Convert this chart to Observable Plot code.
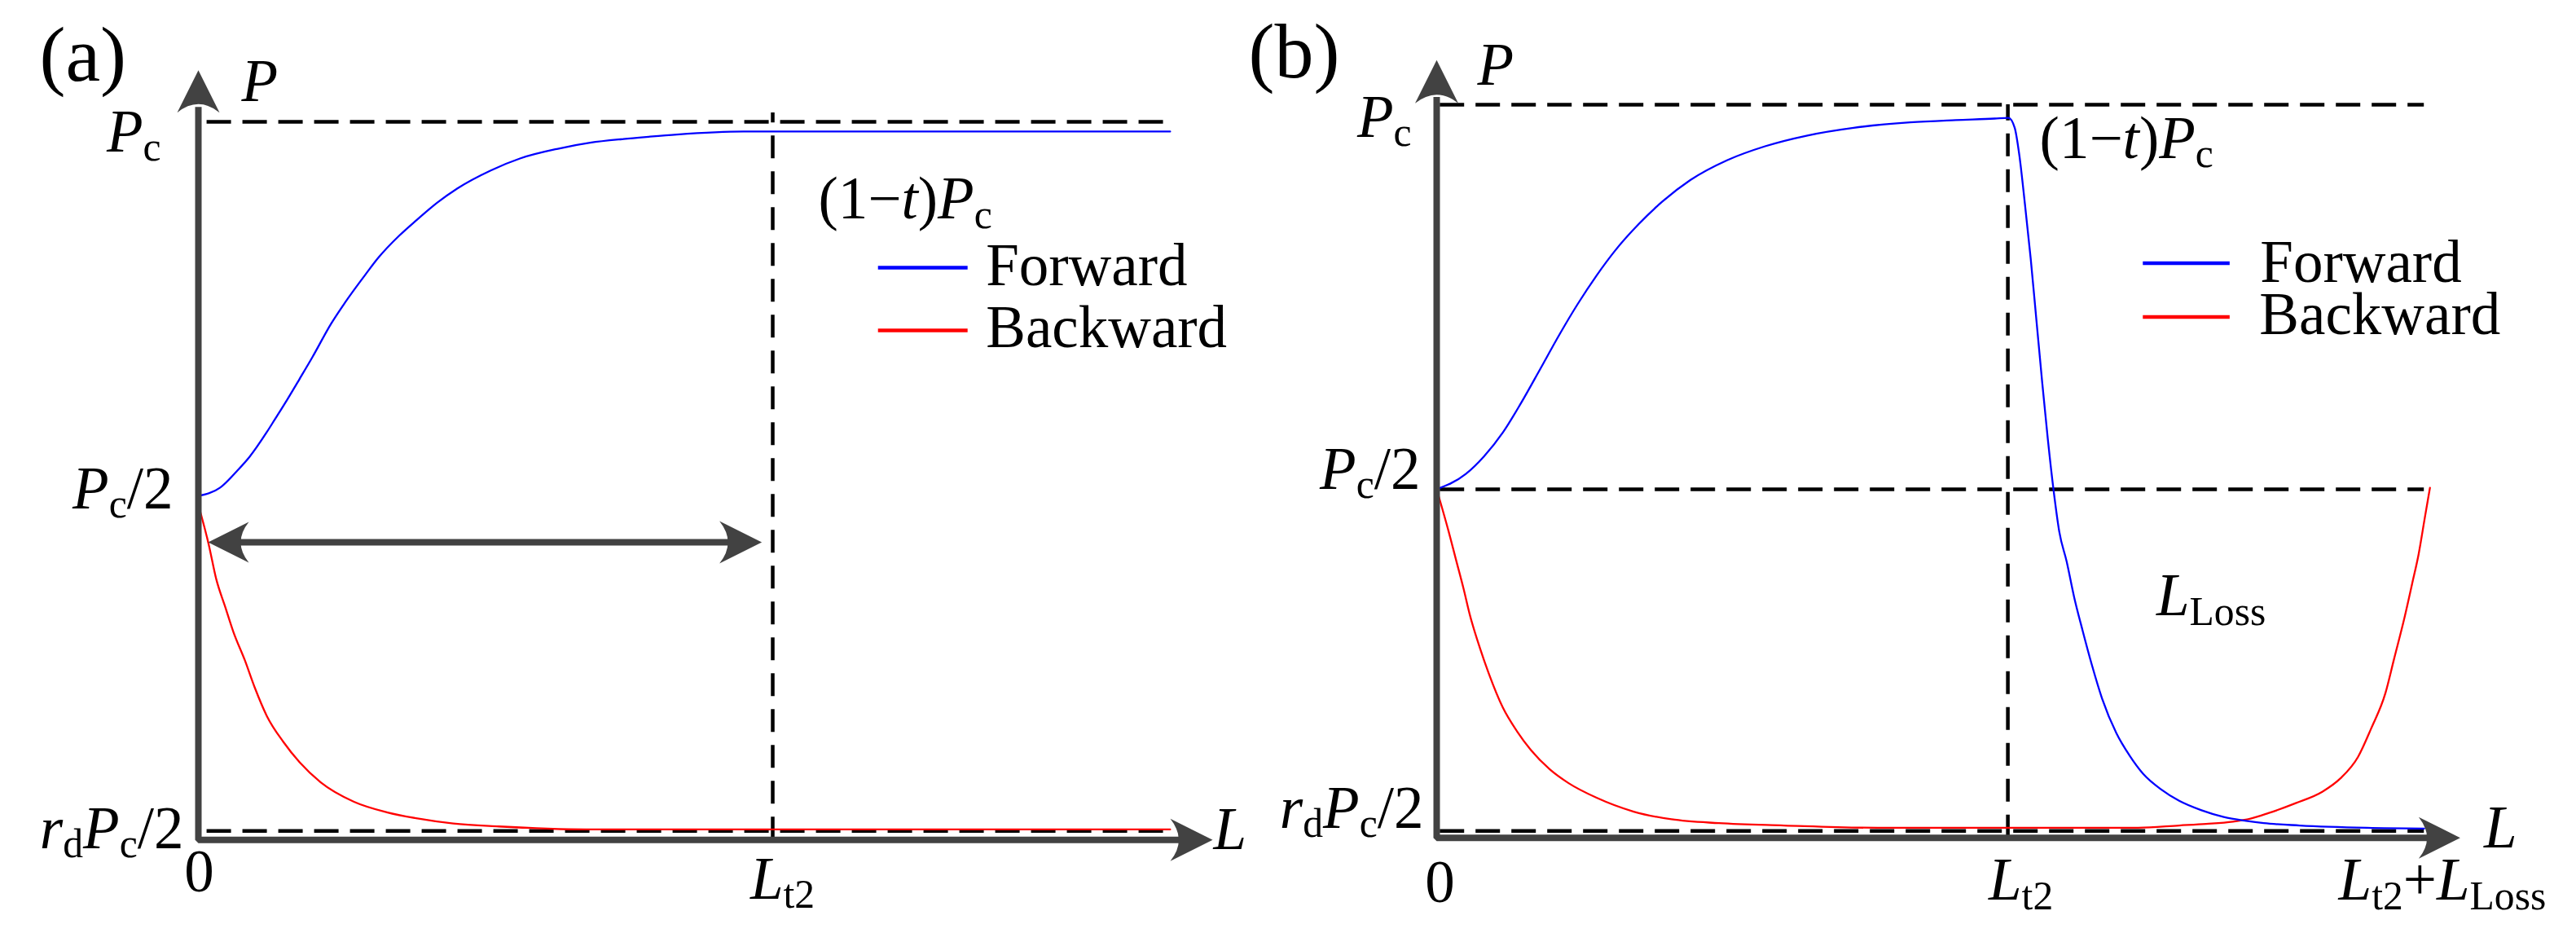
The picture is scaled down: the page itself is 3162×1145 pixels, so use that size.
<!DOCTYPE html>
<html>
<head>
<meta charset="utf-8">
<script src="https://cdn.jsdelivr.net/npm/d3@7"></script>
<script src="https://cdn.jsdelivr.net/npm/@observablehq/plot@0.6"></script>
<style>
  html, body { margin: 0; padding: 0; background: #ffffff; overflow: hidden; }
  #wrap { position: relative; width: 3162px; height: 1145px; background: #ffffff; }
  #wrap svg { position: absolute; left: 0; top: 0; }
</style>
</head>
<body>
<div id="wrap"></div>
<script>
// ---------------- DATA (values in units: L / L_t2, P / P_c) ----------------
const Lt2 = 1;
const LLoss = 0.735;

// Panel (a)
const aForwardL = [0, 0.038, 0.067, 0.089, 0.119, 0.133, 0.155, 0.176, 0.199, 0.231, 0.255, 0.292, 0.313, 0.350, 0.379, 0.416, 0.451, 0.509, 0.560, 0.626, 0.682, 0.740, 0.784, 0.833, 0.949, 1.692];
const aForwardP = [0.500, 0.511, 0.533, 0.552, 0.585, 0.602, 0.629, 0.656, 0.686, 0.730, 0.758, 0.797, 0.818, 0.848, 0.868, 0.892, 0.911, 0.935, 0.951, 0.964, 0.972, 0.977, 0.980, 0.983, 0.987, 0.987];
const aBackwardL = [0, 0.018, 0.031, 0.047, 0.061, 0.081, 0.098, 0.119, 0.148, 0.176, 0.213, 0.271, 0.328, 0.379, 0.444, 0.523, 0.675, 1.692];
const aBackwardP = [0.488, 0.435, 0.389, 0.351, 0.318, 0.280, 0.244, 0.206, 0.171, 0.144, 0.117, 0.091, 0.077, 0.069, 0.062, 0.058, 0.054, 0.054];

// Panel (b)
const bForwardL = [0, 0.051, 0.083, 0.116, 0.146, 0.181, 0.214, 0.247, 0.280, 0.312, 0.354, 0.395, 0.444, 0.509, 0.575, 0.649, 0.730, 0.829, 0.909, 0.977, 1.001, 1.012, 1.020, 1.030, 1.040, 1.050, 1.060, 1.070, 1.080, 1.090, 1.103, 1.116, 1.131, 1.147, 1.165, 1.190, 1.213, 1.237, 1.268, 1.300, 1.338, 1.378, 1.417, 1.448, 1.511, 1.629, 1.729];
const bForwardP = [0.500, 0.520, 0.543, 0.574, 0.610, 0.656, 0.700, 0.741, 0.778, 0.810, 0.845, 0.874, 0.902, 0.928, 0.946, 0.960, 0.970, 0.977, 0.980, 0.982, 0.983, 0.970, 0.935, 0.870, 0.800, 0.720, 0.640, 0.565, 0.499, 0.445, 0.406, 0.360, 0.316, 0.272, 0.228, 0.183, 0.154, 0.130, 0.110, 0.095, 0.083, 0.074, 0.069, 0.066, 0.063, 0.060, 0.059];
const bBackwardL = [0, 0.021, 0.034, 0.047, 0.058, 0.076, 0.091, 0.116, 0.141, 0.165, 0.198, 0.231, 0.280, 0.345, 0.411, 0.494, 0.608, 0.772, 1.228, 1.300, 1.347, 1.394, 1.425, 1.456, 1.504, 1.551, 1.582, 1.613, 1.636, 1.661, 1.676, 1.695, 1.708, 1.719, 1.730, 1.739];
const bBackwardP = [0.500, 0.445, 0.408, 0.371, 0.337, 0.293, 0.261, 0.216, 0.185, 0.161, 0.136, 0.118, 0.099, 0.081, 0.071, 0.066, 0.063, 0.060, 0.060, 0.063, 0.065, 0.068, 0.072, 0.079, 0.092, 0.107, 0.124, 0.152, 0.189, 0.235, 0.279, 0.335, 0.378, 0.415, 0.463, 0.502];

// Levels
const aLevels = { Pc: 1, half: 0.5, rdHalf: 0.052, flat: 0.987, axis: 0.04 };
const bLevels = { Pc: 1, half: 0.5, rdHalf: 0.056, peak: 0.983, axis: 0.047 };

// Tick labels (markup: *x* italic, _{x} subscript)
const aYTickValues = [1, 0.5, 0.052];
const aYTickLabels = ["*P*_{c}", "*P*_{c}/2", "*r*_{d}*P*_{c}/2"];
const aXTickValues = [0, Lt2];
const aXTickLabels = ["0", "*L*_{t2}"];

const bYTickValues = [1, 0.5, 0.056];
const bYTickLabels = ["*P*_{c}", "*P*_{c}/2", "*r*_{d}*P*_{c}/2"];
const bXTickValues = [0, Lt2, Lt2 + LLoss];
const bXTickLabels = ["0", "*L*_{t2}", "*L*_{t2}+*L*_{Loss}"];

const seriesNames = ["Forward", "Backward"];
const seriesColors = ["#0000ff", "#ff0000"];

// ---------------- helpers ----------------
const FONT = "'Liberation Serif','Times New Roman',serif";
const AXIS = "#424242";
const FS = 73;

function toRows(L, P) { return L.map((l, i) => ({ L: l, P: P[i] })); }

function headSymbol(dir) {
  return {
    draw(ctx, size) {
      const r = Math.sqrt(size / Math.PI);
      const w = r * 0.5, n = r * 0.2;
      if (dir === "up") {
        ctx.moveTo(0, 0); ctx.lineTo(w, r); ctx.quadraticCurveTo(0, r - 2 * n, -w, r); ctx.closePath();
      } else if (dir === "right") {
        ctx.moveTo(0, 0); ctx.lineTo(-r, w); ctx.quadraticCurveTo(-r + 2 * n, 0, -r, -w); ctx.closePath();
      } else {
        ctx.moveTo(0, 0); ctx.lineTo(r, w); ctx.quadraticCurveTo(r - 2 * n, 0, r, -w); ctx.closePath();
      }
    }
  };
}
const UP = headSymbol("up"), RIGHT = headSymbol("right"), LEFT = headSymbol("left");

function label(L, P, text, opts) {
  return Plot.text([{ L, P, text }], Object.assign({
    x: "L", y: "P", text: "text", lineAnchor: "bottom", textAnchor: "start",
    fontSize: FS, fill: "black", fontFamily: FONT
  }, opts));
}

function applyRichText(svg) {
  d3.select(svg).selectAll("text").each(function () {
    const s = this.textContent;
    if (!/[*_]/.test(s)) return;
    const segs = [];
    let it = false, i = 0, buf = "";
    const push = () => { if (buf) segs.push({ t: buf, it, sub: false }); buf = ""; };
    while (i < s.length) {
      const ch = s[i];
      if (ch === "*") { push(); it = !it; i++; }
      else if (ch === "_" && s[i + 1] === "{") {
        push();
        const j = s.indexOf("}", i);
        segs.push({ t: s.slice(i + 2, j), it: false, sub: true });
        i = j + 1;
      } else { buf += ch; i++; }
    }
    push();
    this.textContent = "";
    let prevSub = false;
    for (const g of segs) {
      const ts = document.createElementNS("http://www.w3.org/2000/svg", "tspan");
      ts.textContent = g.t;
      if (g.it) ts.setAttribute("font-style", "italic");
      if (g.sub) {
        ts.setAttribute("font-size", "68%");
        if (!prevSub) ts.setAttribute("dy", "0.235em");
      } else if (prevSub) ts.setAttribute("dy", "-0.16em");
      prevSub = g.sub;
      this.appendChild(ts);
    }
  });
}

const dashed = { stroke: "black", strokeWidth: 4.5, strokeDasharray: "30 14" };
const dashedV = { stroke: "black", strokeWidth: 4.5, strokeDasharray: "28 16" };

// ---------------- Panel (a) ----------------
function panelA() {
  const lv = aLevels;
  const marks = [
    Plot.ruleY([lv.Pc, lv.rdHalf], { x1: 0.015, x2: 1.692, ...dashed }),
    Plot.ruleX([Lt2], { y1: lv.axis, y2: 1.012, ...dashedV }),
    Plot.line(toRows(aBackwardL, aBackwardP), { x: "L", y: "P", stroke: seriesColors[1], strokeWidth: 2.3, curve: "monotone-x" }),
    Plot.line(toRows(aForwardL, aForwardP), { x: "L", y: "P", stroke: seriesColors[0], strokeWidth: 2.3, curve: "monotone-x" }),
    Plot.line([{ L: 0, P: 1.02 }, { L: 0, P: lv.axis }, { L: 1.72, P: lv.axis }], { x: "L", y: "P", stroke: AXIS, strokeWidth: 8, strokeLinejoin: "miter", strokeLinecap: "butt" }),
    Plot.dot([{ L: 0, P: 1.069 }], { x: "L", y: "P", r: 52, symbol: UP, fill: AXIS, stroke: "none" }),
    Plot.dot([{ L: 1.766, P: lv.axis }], { x: "L", y: "P", r: 52, symbol: RIGHT, fill: AXIS, stroke: "none" }),
    Plot.ruleY([0.438], { x1: 0.04, x2: 0.96, stroke: AXIS, strokeWidth: 8 }),
    Plot.dot([{ L: 0.017, P: 0.438 }], { x: "L", y: "P", r: 50, symbol: LEFT, fill: AXIS, stroke: "none" }),
    Plot.dot([{ L: 0.981, P: 0.438 }], { x: "L", y: "P", r: 52, symbol: RIGHT, fill: AXIS, stroke: "none" }),
    Plot.ruleY([0.805], { x1: 1.184, x2: 1.340, stroke: seriesColors[0], strokeWidth: 4.5 }),
    Plot.ruleY([0.721], { x1: 1.184, x2: 1.340, stroke: seriesColors[1], strokeWidth: 4.5 }),
    label(1.340, 0.805, seriesNames[0], { dx: 22, dy: 21 }),
    label(1.340, 0.721, seriesNames[1], { dx: 22, dy: 20 }),
    label(0, lv.Pc, "(a)", { dx: -195, dy: -51, fontSize: 96 }),
    label(0, lv.Pc, "*P*", { dx: 53, dy: -26 }),
    label(0, aYTickValues[0], aYTickLabels[0], { textAnchor: "end", dx: -46, dy: 36 }),
    label(0, aYTickValues[1], aYTickLabels[1], { textAnchor: "end", dx: -31, dy: 15 }),
    label(0, aYTickValues[2], aYTickLabels[2], { textAnchor: "end", dx: -18, dy: 21 }),
    label(aXTickValues[0], lv.axis, aXTickLabels[0], { textAnchor: "middle", dx: 1, dy: 63 }),
    label(aXTickValues[1], lv.axis, aXTickLabels[1], { textAnchor: "middle", dx: 12, dy: 72 }),
    label(1.766, lv.axis, "*L*", { dx: 1, dy: 11 }),
    label(Lt2, lv.flat, "(1−*t*)*P*_{c}", { dx: 56, dy: 107 })
  ];
  return Plot.plot({
    width: 3162, height: 1145,
    marginLeft: 243, marginRight: 1650, marginTop: 149, marginBottom: 78,
    x: { domain: [0, 1.8], axis: null },
    y: { domain: [0, 1], axis: null },
    style: { fontFamily: FONT, background: "transparent", overflow: "visible" },
    marks
  });
}

// ---------------- Panel (b) ----------------
function panelB() {
  const lv = bLevels;
  const marks = [
    Plot.ruleY([lv.Pc, lv.half, lv.rdHalf], { x1: 0.006, x2: 1.729, ...dashed }),
    Plot.ruleX([Lt2], { y1: lv.axis, y2: 1.0, ...dashedV }),
    Plot.line(toRows(bBackwardL, bBackwardP), { x: "L", y: "P", stroke: seriesColors[1], strokeWidth: 2.3, curve: "monotone-x" }),
    Plot.line(toRows(bForwardL, bForwardP), { x: "L", y: "P", stroke: seriesColors[0], strokeWidth: 2.3, curve: "monotone-x" }),
    Plot.line([{ L: 0, P: 1.01 }, { L: 0, P: lv.axis }, { L: 1.75, P: lv.axis }], { x: "L", y: "P", stroke: AXIS, strokeWidth: 8, strokeLinejoin: "miter", strokeLinecap: "butt" }),
    Plot.dot([{ L: 0, P: 1.058 }], { x: "L", y: "P", r: 53, symbol: UP, fill: AXIS, stroke: "none" }),
    Plot.dot([{ L: 1.792, P: lv.axis }], { x: "L", y: "P", r: 51, symbol: RIGHT, fill: AXIS, stroke: "none" }),
    Plot.ruleY([0.794], { x1: 1.237, x2: 1.389, stroke: seriesColors[0], strokeWidth: 4.5 }),
    Plot.ruleY([0.724], { x1: 1.237, x2: 1.389, stroke: seriesColors[1], strokeWidth: 4.5 }),
    label(1.389, 0.794, seriesNames[0], { dx: 37, dy: 23 }),
    label(1.389, 0.724, seriesNames[1], { dx: 36, dy: 21 }),
    label(0, lv.Pc, "(b)", { dx: -231, dy: -34, fontSize: 96 }),
    label(0, lv.Pc, "*P*", { dx: 50, dy: -25 }),
    label(0, bYTickValues[0], bYTickLabels[0], { textAnchor: "end", dx: -31, dy: 39 }),
    label(0, bYTickValues[1], bYTickLabels[1], { textAnchor: "end", dx: -20, dy: -1 }),
    label(0, bYTickValues[2], bYTickLabels[2], { textAnchor: "end", dx: -16, dy: -4 }),
    label(bXTickValues[0], lv.axis, bXTickLabels[0], { textAnchor: "middle", dx: 4, dy: 79 }),
    label(bXTickValues[1], lv.axis, bXTickLabels[1], { textAnchor: "middle", dx: 16, dy: 76 }),
    label(bXTickValues[2], lv.axis, bXTickLabels[2], { textAnchor: "middle", dx: 18, dy: 76 }),
    label(1.792, lv.axis, "*L*", { dx: 29, dy: 12 }),
    label(Lt2, lv.peak, "(1−*t*)*P*_{c}", { dx: 39, dy: 49 }),
    label(1.260, 0.336, "*L*_{Loss}", {})
  ];
  return Plot.plot({
    width: 3162, height: 1145,
    marginLeft: 1763, marginRight: 137, marginTop: 128, marginBottom: 73,
    x: { domain: [0, 1.8], axis: null },
    y: { domain: [0, 1], axis: null },
    style: { fontFamily: FONT, background: "transparent", overflow: "visible" },
    marks
  });
}

const wrap = document.getElementById("wrap");
for (const make of [panelA, panelB]) {
  const svg = make();
  applyRichText(svg);
  wrap.appendChild(svg);
}
</script>
</body>
</html>
